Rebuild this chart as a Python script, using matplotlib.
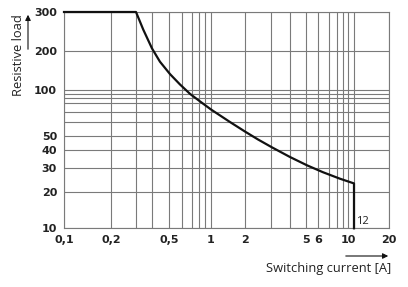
import numpy as np
import matplotlib
matplotlib.use("Agg")
import matplotlib.pyplot as plt

# Kurve: Schaltstrom [A] / ohmsche Last
current = [0.1, 0.3, 0.342, 0.4, 0.444, 0.507, 0.583, 0.683, 0.822, 1.0, 1.47, 2.0,
           2.45, 3.05, 4.0, 5.08, 6.43, 8.49, 12, 12]
load = [300, 300, 250, 206, 166, 133, 110.5, 95.5, 83.7, 72.5, 60.3, 52.9,
        47.2, 41.8, 35.8, 31.2, 27.8, 24.9, 23.0, 10]

x_major = [0.1, 0.2, 0.5, 1, 2, 5, 6, 10, 20]
x_labels = ["0,1", "0,2", "0,5", "1", "2", "5", "6", "10", "20"]
x_minor = [0.3, 0.4, 0.6, 0.7, 0.8, 0.9, 3, 4, 7, 8, 9, 12]
y_major = [10, 20, 30, 40, 50, 100, 200, 300]
y_labels = ["10", "20", "30", "40", "50", "100", "200", "300"]
y_minor = [60, 70, 80, 90, 95]

# das Raster im Original ist nicht ganz logarithmisch -> Kalibrierung
x_cal_val = [0.1, 0.2, 0.3, 0.4, 0.5, 0.6, 0.7, 0.8, 0.9, 1, 2, 3, 4, 5, 6, 7, 8, 9, 10, 12, 20]
x_cal_pos = [0, 47, 72, 88, 105, 118, 127.5, 134.5, 141, 147, 181, 207, 226, 242, 254, 265, 273, 279, 284, 290, 325.3]
y_cal_val = [10, 20, 30, 40, 50, 60, 70, 80, 90, 95, 100, 200, 300]
y_cal_pos = [0, 36.6, 60.6, 78, 92.6, 106, 116.6, 125, 130, 134, 138.3, 177, 216.3]


def piecewise_log(vals, pos):
    lv = np.log10(vals)
    pos = np.asarray(pos, float)

    def fwd(v):
        v = np.asarray(v, float)
        lg = np.log10(np.clip(v, 1e-9, None))
        return np.interp(lg, lv, pos)

    def inv(p):
        return 10 ** np.interp(np.asarray(p, float), pos, lv)
    return fwd, inv


grid_col = "#7a7a7a"
fig = plt.figure(figsize=(4.08, 2.87), dpi=100)
ax = fig.add_axes([64 / 408, 1 - 228.3 / 287, 325.3 / 408, 216.3 / 287])

ax.set_xscale("function", functions=piecewise_log(x_cal_val, x_cal_pos))
ax.set_yscale("function", functions=piecewise_log(y_cal_val, y_cal_pos))
ax.set_xlim(0.1, 20)
ax.set_ylim(10, 300)

ax.set_xticks(x_major)
ax.set_xticklabels(x_labels)
ax.set_xticks(x_minor, minor=True)
ax.set_yticks(y_major)
ax.set_yticklabels(y_labels)
ax.set_yticks(y_minor, minor=True)
ax.tick_params(which="both", length=0)
ax.tick_params(axis="x", pad=5)
ax.tick_params(axis="y", pad=5)
for lab in ax.get_xticklabels() + ax.get_yticklabels():
    lab.set_fontfamily("DejaVu Sans")
    lab.set_fontweight("bold")
    lab.set_fontsize(8)
    lab.set_color("#222222")

ax.grid(True, which="both", color=grid_col, lw=0.8)
for s in ax.spines.values():
    s.set_color(grid_col)
    s.set_linewidth(0.8)

ax.plot(current, load, color="#111111", lw=1.6, clip_on=False, zorder=5,
        solid_joinstyle="round")
ax.text(12.3, 11.3, "12", fontsize=8, family="Open Sans", color="#222222",
        ha="left", va="center")

fig.text(391 / 408, 1 - 268.3 / 287, "Switching current [A]", ha="right", va="center",
         fontsize=9.3, family="Open Sans", color="#222222")
ax.annotate("", xy=(391 / 408, 1 - 256 / 287), xytext=(343 / 408, 1 - 256 / 287),
            xycoords="figure fraction",
            arrowprops=dict(arrowstyle="-|>", color="#111111", lw=0.8, mutation_scale=8))

fig.text(18.3 / 408, 1 - 55 / 287, "Resistive load", rotation=90, ha="center", va="center",
         fontsize=9.3, family="Open Sans", color="#222222")
ax.annotate("", xy=(28 / 408, 1 - 12 / 287), xytext=(28 / 408, 1 - 52 / 287),
            xycoords="figure fraction",
            arrowprops=dict(arrowstyle="-|>", color="#111111", lw=0.8, mutation_scale=8))

fig.savefig("out.png", dpi=100)
